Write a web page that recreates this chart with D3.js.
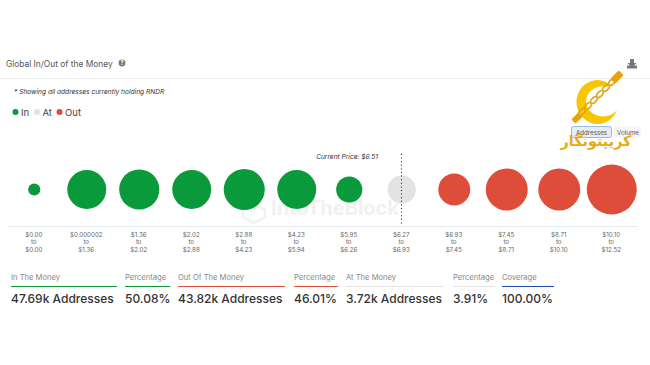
<!DOCTYPE html>
<html>
<head>
<meta charset="utf-8">
<script src="https://cdn.jsdelivr.net/npm/d3@7"></script>
<style>
  html, body { margin: 0; padding: 0; background: #fff; overflow: hidden; }
  svg { display: block; font-family: Inter, "Noto Sans", sans-serif; }
</style>
</head>
<body>
<div id="vis"></div>
<script>
// price bands, low and high end of each one
const bandLow = ['$0.00', '$0.000002', '$1.36', '$2.02', '$2.88', '$4.23', '$5.95', '$6.27', '$6.93', '$7.45', '$8.71', '$10.10'];
const bandHigh = ['$0.00', '$1.36', '$2.02', '$2.88', '$4.23', '$5.94', '$6.26', '$6.93', '$7.45', '$8.71', '$10.10', '$12.52'];
// thousands of addresses
const bandValues = [0.8, 8.2, 8.7, 8.2, 9.1, 8.2, 3.7, 4.3, 5.5, 9.5, 9.5, 13.5];
const bandStatus = ['in', 'in', 'in', 'in', 'in', 'in', 'in', 'at', 'out', 'out', 'out', 'out'];

const legendKeys = ['in', 'at', 'out'];
const legendLabels = ['In', 'At', 'Out'];

const summaryLabels = ['In The Money', 'Percentage', 'Out Of The Money', 'Percentage', 'At The Money', 'Percentage', 'Coverage'];
const summaryValues = ['47.69k Addresses', '50.08%', '43.82k Addresses', '46.01%', '3.72k Addresses', '3.91%', '100.00%'];
const summaryKinds = ['in', 'in', 'out', 'out', 'at', 'at', 'all'];
const summaryStarts = [11, 125, 178, 294, 346, 453, 502];
const summaryEnds = [117, 170, 285, 338, 444, 494, 554];

const currentPrice = 6.51;
const priceLabel = 'Current Price: $' + currentPrice.toFixed(2);

const color = d3.scaleOrdinal()
  .domain(['in', 'at', 'out', 'all'])
  .range(['#0a9a3c', '#e3e3e3', '#de4c3a', '#1f48b0']);

const width = 650;
const height = 365;

const svg = d3.select('#vis')
  .append('svg')
  .attr('width', width)
  .attr('height', height);

// header
svg.append('text')
  .attr('x', 6).attr('y', 66.5)
  .attr('font-size', 8.4).attr('fill', '#555')
  .text('Global In/Out of the Money');

svg.append('circle')
  .attr('cx', 122).attr('cy', 63).attr('r', 3.4)
  .attr('fill', '#777');
svg.append('text')
  .attr('x', 122).attr('y', 65.2)
  .attr('font-size', 5.5).attr('font-weight', 700).attr('fill', '#fff')
  .attr('text-anchor', 'middle')
  .text('?');

svg.append('line')
  .attr('x1', 0).attr('x2', width).attr('y1', 78.5).attr('y2', 78.5)
  .attr('stroke', '#f0f0f0');

// download icon
const icon = svg.append('g').attr('fill', '#777');
icon.append('path').attr('d', 'M630 59h4v4h2.5l-4.5 4.5l-4.5-4.5h2.5z');
icon.append('rect').attr('x', 627).attr('y', 65.5).attr('width', 10).attr('height', 3);

svg.append('text')
  .attr('x', 14).attr('y', 93.5)
  .attr('font-size', 6.6).attr('font-style', 'italic').attr('fill', '#333')
  .text('* Showing all addresses currently holding RNDR');

// legend
const legendX = d3.scaleOrdinal().domain(legendKeys).range([15.5, 37, 59.5]);
const legend = svg.selectAll('.legend')
  .data(legendKeys)
  .enter()
  .append('g')
  .attr('class', 'legend')
  .attr('transform', function(d) {
    return 'translate(' + legendX(d) + ',112)';
  });
legend.append('circle')
  .attr('r', 3)
  .attr('fill', function(d) { return color(d); });
legend.append('text')
  .attr('x', 5.5).attr('y', 3.6)
  .attr('font-size', 9.5).attr('fill', '#444')
  .text(function(d, i) { return legendLabels[i]; });

// addresses / volume toggle, sits under the logo
svg.append('rect')
  .attr('x', 571.5).attr('y', 126.5).attr('width', 40).attr('height', 11).attr('rx', 2)
  .attr('fill', '#e4edf8').attr('stroke', '#9db8dc');
svg.append('rect')
  .attr('x', 613).attr('y', 126.5).attr('width', 28).attr('height', 11).attr('rx', 2)
  .attr('fill', '#f6f6f6');
svg.append('text')
  .attr('x', 591.5).attr('y', 134.5)
  .attr('font-size', 6.2).attr('fill', '#555').attr('text-anchor', 'middle')
  .text('Addresses');
svg.append('text')
  .attr('x', 628).attr('y', 134.5)
  .attr('font-size', 6.2).attr('fill', '#555').attr('text-anchor', 'middle')
  .text('Volume');

// watermark behind the bubbles
svg.append('text')
  .attr('x', 335).attr('y', 215)
  .attr('font-size', 20).attr('font-weight', 700).attr('fill', '#f1f1f1')
  .attr('text-anchor', 'middle')
  .text('IntoTheBlock');
svg.append('path')
  .attr('d', 'M243 210l11-6l11 6v7l-11 6l-11-6z')
  .attr('fill', 'none').attr('stroke', '#f1f1f1').attr('stroke-width', 2.5);

// bubbles
const x = d3.scaleBand()
  .domain(d3.range(bandValues.length))
  .range([8, 638]);

const r = d3.scaleSqrt()
  .domain([0, 13.5])
  .range([0, 25]);

const bubbleY = 189.5;

svg.selectAll('.bubble')
  .data(bandValues)
  .enter()
  .append('circle')
  .attr('class', 'bubble')
  .attr('cx', function(d, i) { return x(i) + x.bandwidth() / 2; })
  .attr('cy', bubbleY)
  .attr('r', function(d) { return r(d); })
  .attr('fill', function(d, i) { return color(bandStatus[i]); });

// axis line and labels
svg.append('line')
  .attr('x1', 8).attr('x2', 638).attr('y1', 226.5).attr('y2', 226.5)
  .attr('stroke', '#e8ecef');

const bandLabels = svg.selectAll('.band')
  .data(bandLow)
  .enter()
  .append('text')
  .attr('class', 'band')
  .attr('font-size', 6.2)
  .attr('fill', '#666')
  .attr('text-anchor', 'middle');
[function(d) { return d; }, function() { return 'to'; }, function(d, i) { return bandHigh[i]; }]
  .forEach(function(line, k) {
    bandLabels.append('tspan')
      .attr('x', function(d, i) { return x(i) + x.bandwidth() / 2 - 0.5; })
      .attr('y', 236.5 + k * 7.5)
      .text(line);
  });

// current price marker
const priceX = 401.5;
svg.append('line')
  .attr('x1', priceX).attr('x2', priceX).attr('y1', 154).attr('y2', 226)
  .attr('stroke', '#222').attr('stroke-width', 1.1).attr('stroke-dasharray', '1 2.6');
svg.append('text')
  .attr('x', 347).attr('y', 159)
  .attr('font-size', 6.6).attr('font-style', 'italic').attr('fill', '#333')
  .attr('text-anchor', 'middle')
  .text(priceLabel);

// summary row
const summary = svg.selectAll('.summary')
  .data(summaryLabels)
  .enter()
  .append('g')
  .attr('class', 'summary');
summary.append('text')
  .attr('x', function(d, i) { return summaryStarts[i]; })
  .attr('y', 280)
  .attr('font-size', 7.6).attr('fill', '#888')
  .text(function(d) { return d; });
summary.append('line')
  .attr('x1', function(d, i) { return summaryStarts[i]; })
  .attr('x2', function(d, i) { return summaryEnds[i]; })
  .attr('y1', 286.5).attr('y2', 286.5)
  .attr('stroke', function(d, i) { return color(summaryKinds[i]); })
  .attr('stroke-width', 1);
summary.append('text')
  .attr('x', function(d, i) { return summaryStarts[i]; })
  .attr('y', 303)
  .attr('font-size', 12).attr('font-weight', 500).attr('fill', '#333')
  .text(function(d, i) { return summaryValues[i]; });

// site logo pasted over the corner of the chart
const logo = svg.append('g');
logo.append('path')
  .attr('d', 'M608 83A21 22 0 1 0 617 110A17 15 0 1 1 608 87Z')
  .attr('fill', '#f7c600');
logo.append('rect')
  .attr('x', -6).attr('y', -3.5).attr('width', 12).attr('height', 7).attr('rx', 1.5)
  .attr('transform', 'translate(617,77) rotate(-45)')
  .attr('fill', '#e8a30c');
logo.append('rect')
  .attr('x', -5).attr('y', -3).attr('width', 10).attr('height', 6).attr('rx', 1.5)
  .attr('transform', 'translate(577,118) rotate(-45)')
  .attr('fill', '#e8a30c');
d3.range(6).forEach(function(i) {
  logo.append('ellipse')
    .attr('rx', 4.2).attr('ry', 2.3)
    .attr('transform', 'translate(' + (612 - i * 6) + ',' + (82 + i * 6) + ') rotate(-45)')
    .attr('fill', 'none').attr('stroke', '#e8a30c').attr('stroke-width', 1.6);
});
logo.append('text')
  .attr('x', 596).attr('y', 146)
  .attr('font-family', '"DejaVu Sans", sans-serif')
  .attr('font-size', 14.4).attr('font-weight', 700).attr('fill', '#eba90f')
  .attr('text-anchor', 'middle').attr('direction', 'rtl')
  .text('کریپتونگار');
</script>
</body>
</html>
